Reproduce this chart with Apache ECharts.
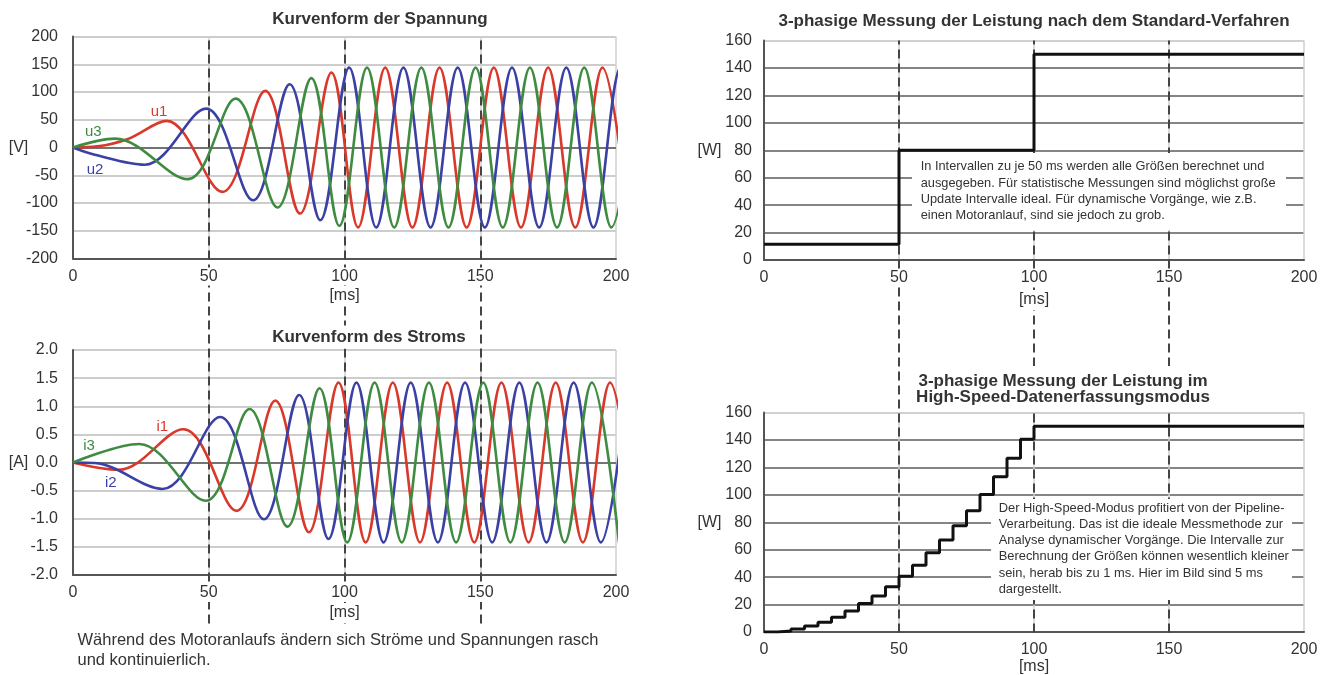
<!DOCTYPE html>
<html><head><meta charset="utf-8">
<script src="https://cdn.jsdelivr.net/npm/echarts@6/dist/echarts.min.js"></script>
<style>html,body{margin:0;padding:0;background:#fff}#c{width:1331px;height:675px}</style>
</head><body><div id="c"></div>
<script>
// ---- tick values ----
const timeTicks  = [0, 50, 100, 150, 200];
const voltTicks  = [-200, -150, -100, -50, 0, 50, 100, 150, 200];
const ampTicks   = [-2.0, -1.5, -1.0, -0.5, 0.0, 0.5, 1.0, 1.5, 2.0];
const powerTicks = [0, 20, 40, 60, 80, 100, 120, 140, 160];
const markerTimes = [50, 100, 150];

// ---- voltage waveforms: extrema [ms, V] ----
const u1 = [[0,0],[9,2],[20,15],[34.5,48],[55,-80],[70.8,102],[83.6,-119],[95.2,135],[105,-144],[115,144],[125,-144],[135,144],[145,-144],[155,144],[165,-144],[175,144],[185,-144],[195,144],[205,-144]];
const u2 = [[0,0],[8,-13],[26.4,-31],[49,70],[66.3,-95],[79.8,114],[91.1,-131],[101.7,144],[111.7,-144],[121.7,144],[131.7,-144],[141.7,144],[151.7,-144],[161.7,144],[171.7,-144],[181.7,144],[191.7,-144],[201.7,144],[211.7,-144]];
const u3 = [[0,0],[15.5,16],[42.2,-57],[59.9,88],[75.3,-108],[87.8,125],[98.1,-141],[108.3,144],[118.3,-144],[128.3,144],[138.3,-144],[148.3,144],[158.3,-144],[168.3,144],[178.3,-144],[188.3,144],[198.3,-144],[208.3,144]];

// ---- current waveforms: extrema [ms, A] ----
const i1 = [[0,0],[16.8,-0.13],[40.7,0.59],[60.2,-0.86],[74.5,1.10],[86.9,-1.24],[97.8,1.42],[107.8,-1.42],[117.8,1.42],[127.8,-1.42],[137.8,1.42],[147.8,-1.42],[157.8,1.42],[167.8,-1.42],[177.8,1.42],[187.8,-1.42],[197.8,1.42],[207.8,-1.42]];
const i2 = [[0,0],[8,-0.01],[33,-0.47],[54.2,0.81],[70.3,-1.01],[83.3,1.20],[94.1,-1.36],[104.4,1.42],[114.4,-1.42],[124.4,1.42],[134.4,-1.42],[144.4,1.42],[154.4,-1.42],[164.4,1.42],[174.4,-1.42],[184.4,1.42],[194.4,-1.42],[204.4,1.42]];
const i3 = [[0,0],[24.4,0.33],[48.9,-0.68],[65,0.95],[79,-1.14],[90.8,1.32],[101,-1.42],[111.1,1.42],[121.1,-1.42],[131.1,1.42],[141.1,-1.42],[151.1,1.42],[161.1,-1.42],[171.1,1.42],[181.1,-1.42],[191.1,1.42],[201.1,-1.42]];

// ---- power steps ----
const stdTimes  = [0, 50, 100, 200];
const stdPower  = [11.5, 80, 150, 150];
const hsTimes   = [0,5,10,15,20,25,30,35,40,45,50,55,60,65,70,75,80,85,90,95,100,200];
const hsPower   = [0,0.7,2.2,4.4,7.1,10.7,15.3,20.7,26.3,32.9,40.7,48.7,57.7,67,77.4,88.4,100.3,113.2,126.6,140.5,150,150];

const FONT = "'Liberation Sans', Arial, Helvetica, sans-serif";
const TXT = '#333';
const RED = '#d8392b', BLUE = '#3b40a4', GREEN = '#3e8b41';

const zip = (a, b) => a.map((v, k) => [v, b[k]]);
const rng = t => ({ min: t[0], max: t[t.length - 1], interval: t[1] - t[0] });

const grids = [
  { left: 73,  top: 36.5, width: 543, height: 222 },
  { left: 73,  top: 350,  width: 543, height: 225 },
  { left: 764, top: 40.5, width: 540, height: 219.5 },
  { left: 764, top: 412.5, width: 540, height: 219.5 },
  { left: 73,  top: 36.5, width: 543, height: 587 },
  { left: 764, top: 40.5, width: 540, height: 592 }
].map(g => Object.assign({ outerBoundsMode: 'none', containLabel: false }, g));

const xMain = [0,1,2,3].map(g => Object.assign({
  type: 'value', gridIndex: g, z: 0, position: 'bottom',
  axisLine: { show: true, onZero: false, lineStyle: { color: '#555', width: 2 } },
  axisTick: { show: false }, axisLabel: { show: false },
  splitLine: { show: true, lineStyle: { color: '#cfcfcf', width: 1.5 } }
}, rng(timeTicks)));
const xLab = [0,1,2,3].map(g => Object.assign({
  type: 'value', gridIndex: g, z: 3, position: 'bottom',
  axisLine: { show: false, onZero: false }, axisTick: { show: false }, splitLine: { show: false },
  axisLabel: { show: true, margin: 9, fontSize: 16, color: TXT, fontFamily: FONT, backgroundColor: '#fff', padding: [1, 2] }
}, rng(timeTicks)));
const xOver = [4,5].map(g => Object.assign({ type: 'value', gridIndex: g, show: false }, rng(timeTicks)));

function yAxisDef(g, ticks, name, fmt, splitColors, margin, gap) {
  return Object.assign({
    type: 'value', gridIndex: g, z: 0,
    axisLine: { show: true, lineStyle: { color: '#555', width: 2 } },
    axisTick: { show: false },
    axisLabel: { margin: margin, fontSize: 16, color: TXT, fontFamily: FONT, formatter: fmt },
    splitLine: { show: true, lineStyle: { color: splitColors, width: 2 } },
    name: name, nameLocation: 'middle', nameRotate: 0, nameGap: gap, nameMoveOverlap: false,
    nameTextStyle: { fontSize: 16, color: TXT, fontFamily: FONT, align: 'center', verticalAlign: 'middle' }
  }, rng(ticks));
}
const darkSplit = ['#858585','#858585','#858585','#858585','#858585','#858585','#858585','#858585','#d0d0d0'];
const yAxes = [
  yAxisDef(0, voltTicks, '[V]', v => String(v), '#cdcdcd', 15, 54.5),
  yAxisDef(1, ampTicks, '[A]', v => v.toFixed(1), '#cdcdcd', 15, 54.5),
  yAxisDef(2, powerTicks, '[W]', v => String(v), darkSplit, 12, 54.5),
  yAxisDef(3, powerTicks, '[W]', v => String(v), darkSplit, 12, 54.5),
  { type: 'value', gridIndex: 4, show: false, min: 0, max: 1 },
  { type: 'value', gridIndex: 5, show: false, min: 0, max: 1 }
];

function dashed(xi, yi) {
  return { type: 'line', xAxisIndex: xi, yAxisIndex: yi, data: [], z: 1, silent: true,
    markLine: { silent: true, z: 1, symbol: ['none', 'none'], label: { show: false },
      lineStyle: { type: [9, 5], color: '#444', width: 2 },
      data: markerTimes.map(t => ({ xAxis: t })) } };
}
function zeroLine(xi, yi) {
  return { type: 'line', xAxisIndex: xi, yAxisIndex: yi, data: [], z: 2, silent: true,
    markLine: { silent: true, z: 2, symbol: ['none', 'none'], label: { show: false },
      lineStyle: { type: 'solid', color: '#555', width: 1.5 }, data: [{ yAxis: 0 }] } };
}
function wave(xi, data, color, name, coord) {
  return { type: 'line', name: name, xAxisIndex: xi, yAxisIndex: xi, data: data, smooth: 0.36,
    showSymbol: false, z: 6, lineStyle: { color: color, width: 2.6 }, itemStyle: { color: color },
    markPoint: { z: 8, symbol: 'circle', symbolSize: 1, itemStyle: { color: 'rgba(0,0,0,0)' },
      label: { show: true, position: 'inside', formatter: name, color: color, fontSize: 15, fontFamily: FONT },
      data: [{ coord: coord }] } };
}
function steps(xi, data) {
  return { type: 'line', xAxisIndex: xi, yAxisIndex: xi, data: data, step: 'end', showSymbol: false, z: 6,
    lineStyle: { color: '#111', width: 3 }, itemStyle: { color: '#111' } };
}
function msLabel(x, y) {
  return { type: 'text', x: x, y: y, z: 10, style: { text: '[ms]', font: '16px ' + FONT, fill: TXT, align: 'center', verticalAlign: 'middle', backgroundColor: '#fff', padding: [2, 4] } };
}

const option = {
  animation: false,
  backgroundColor: '#fff',
  textStyle: { fontFamily: FONT },
  grid: grids,
  xAxis: xMain.concat(xLab, xOver),
  yAxis: yAxes,
  series: [
    dashed(8, 4), dashed(9, 5),
    zeroLine(0, 0), zeroLine(1, 1),
    wave(0, u1, RED, 'u1', [31.7, 64.3]),
    wave(0, u2, BLUE, 'u2', [8.1, -40]),
    wave(0, u3, GREEN, 'u3', [7.5, 28.3]),
    wave(1, i1, RED, 'i1', [32.9, 0.64]),
    wave(1, i2, BLUE, 'i2', [13.9, -0.37]),
    wave(1, i3, GREEN, 'i3', [5.9, 0.30]),
    steps(2, zip(stdTimes, stdPower)),
    steps(3, zip(hsTimes, hsPower))
  ],
  graphic: [
    msLabel(344.5, 296), msLabel(344.5, 613), msLabel(1034, 300), msLabel(1034, 667),
    { type: 'text', x: 380, y: 19.5, z: 10, style: { text: 'Kurvenform der Spannung', font: 'bold 17px ' + FONT, fill: TXT, align: 'center', verticalAlign: 'middle', backgroundColor: '#fff', padding: [2, 4] } },
    { type: 'text', x: 369, y: 337, z: 10, style: { text: 'Kurvenform des Stroms', font: 'bold 17px ' + FONT, fill: TXT, align: 'center', verticalAlign: 'middle', backgroundColor: '#fff', padding: [3, 4] } },
    { type: 'text', x: 1034, y: 21, z: 10, style: { text: '3-phasige Messung der Leistung nach dem Standard-Verfahren', font: 'bold 17px ' + FONT, fill: TXT, align: 'center', verticalAlign: 'middle', backgroundColor: '#fff', padding: [2, 4] } },
    { type: 'text', x: 1063, y: 389, z: 10, style: { text: '3-phasige Messung der Leistung im\nHigh-Speed-Datenerfassungsmodus', font: 'bold 17px ' + FONT, lineHeight: 16, fill: TXT, align: 'center', verticalAlign: 'middle', backgroundColor: '#fff', padding: [6, 4, 8, 4] } },
    { type: 'text', x: 77.5, y: 630, z: 10, style: { text: 'Während des Motoranlaufs ändern sich Ströme und Spannungen rasch\nund kontinuierlich.', font: '16.5px ' + FONT, lineHeight: 20, fill: TXT, align: 'left', verticalAlign: 'top' } },
    { type: 'rect', z: 5, shape: { x: 912, y: 153, width: 374, height: 77 }, style: { fill: '#fff' } },
    { type: 'text', x: 920.7, y: 158.5, z: 7, style: { text: 'In Intervallen zu je 50 ms werden alle Größen berechnet und\nausgegeben. Für statistische Messungen sind möglichst große\nUpdate Intervalle ideal. Für dynamische Vorgänge, wie z.B.\neinen Motoranlauf, sind sie jedoch zu grob.', font: '12.8px ' + FONT, lineHeight: 16.4, fill: TXT, align: 'left', verticalAlign: 'top' } },
    { type: 'rect', z: 5, shape: { x: 991, y: 499, width: 301, height: 101 }, style: { fill: '#fff' } },
    { type: 'text', x: 998.7, y: 500.2, z: 7, style: { text: 'Der High-Speed-Modus profitiert von der Pipeline-\nVerarbeitung. Das ist die ideale Messmethode zur\nAnalyse dynamischer Vorgänge. Die Intervalle zur\nBerechnung der Größen können wesentlich kleiner\nsein, herab bis zu 1 ms. Hier im Bild sind 5 ms\ndargestellt.', font: '12.9px ' + FONT, lineHeight: 16.2, fill: TXT, align: 'left', verticalAlign: 'top' } }
  ]
};
const chart = echarts.init(document.getElementById('c'), null, { renderer: 'canvas' });
chart.setOption(option);
</script></body></html>
